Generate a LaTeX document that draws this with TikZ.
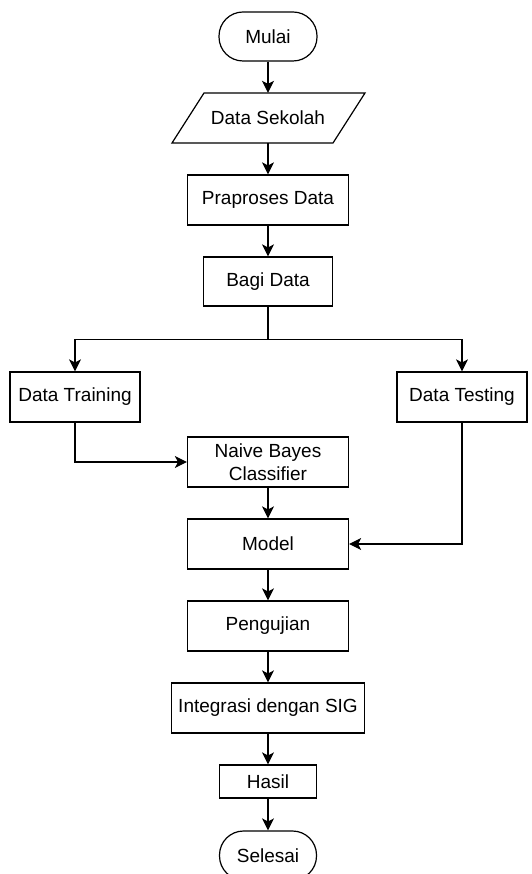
\documentclass[tikz,border=0pt]{standalone}
\usepackage{fontspec}
\setmainfont{Liberation Sans}
\usetikzlibrary{arrows.meta}

\tikzset{
    proses/.style={shape=rectangle,draw=black,line width=1.2pt,minimum width=161pt,minimum height=50pt,inner sep=0pt,align=center},
    terminal/.style={shape=rectangle,draw=black,line width=1.2pt,rounded corners=24pt,minimum width=98pt,minimum height=49pt,inner sep=0pt},
    panah/.style={line width=1.2pt,-{Stealth[length=12pt,width=12pt,inset=3pt]}}
}

\begin{document}
\begin{tikzpicture}[x=1pt,y=-1pt,font=\fontsize{19}{23}\selectfont]
            \useasboundingbox (0,0) rectangle (531,874);

            \node[terminal] (mulai) at (268,36.5) {Mulai};
            \node[minimum width=161pt,minimum height=50pt,inner sep=0pt] (sekolah) at (268,118) {Data Sekolah};
            \draw[line width=1.2pt] (172,143) -- (204,93) -- (365,93) -- (333,143) -- cycle;
            \node[proses] (praproses) at (268,200) {Praproses Data};
            \node[proses,minimum width=129pt,minimum height=49pt] (bagi) at (268,281.5) {Bagi Data};
            \coordinate (cabang) at (268,339.5);
            \node[proses,minimum width=130pt] (training) at (75,397) {Data Training};
            \node[proses,minimum width=130pt] (testing) at (462,397) {Data Testing};
            \node[proses] (naive) at (268,462) {Naive Bayes\\Classifier};
            \node[proses] (model) at (268,544) {Model};
            \node[proses] (pengujian) at (268,626) {Pengujian};
            \node[proses,minimum width=193pt] (integrasi) at (268,708) {Integrasi dengan SIG};
            \node[proses,minimum width=97pt,minimum height=33pt] (hasil) at (268,781.5) {Hasil};
            \node[terminal,minimum width=97pt] (selesai) at (268,855.5) {Selesai};

            \draw [panah] (mulai) -- (sekolah);
            \draw [panah] (sekolah) -- (praproses);
            \draw [panah] (praproses) -- (bagi);
            \draw [line width=1.2pt] (bagi) -- (cabang);
            \draw [panah] (cabang) -| (training);
            \draw [panah] (cabang) -| (testing);
            \draw [panah] (training) |- (naive);
            \draw [panah] (naive) -- (model);
            \draw [panah] (testing) |- (model);
            \draw [panah] (model) -- (pengujian);
            \draw [panah] (pengujian) -- (integrasi);
            \draw [panah] (integrasi) -- (hasil);
            \draw [panah] (hasil) -- (selesai);
        \end{tikzpicture}
\end{document}
